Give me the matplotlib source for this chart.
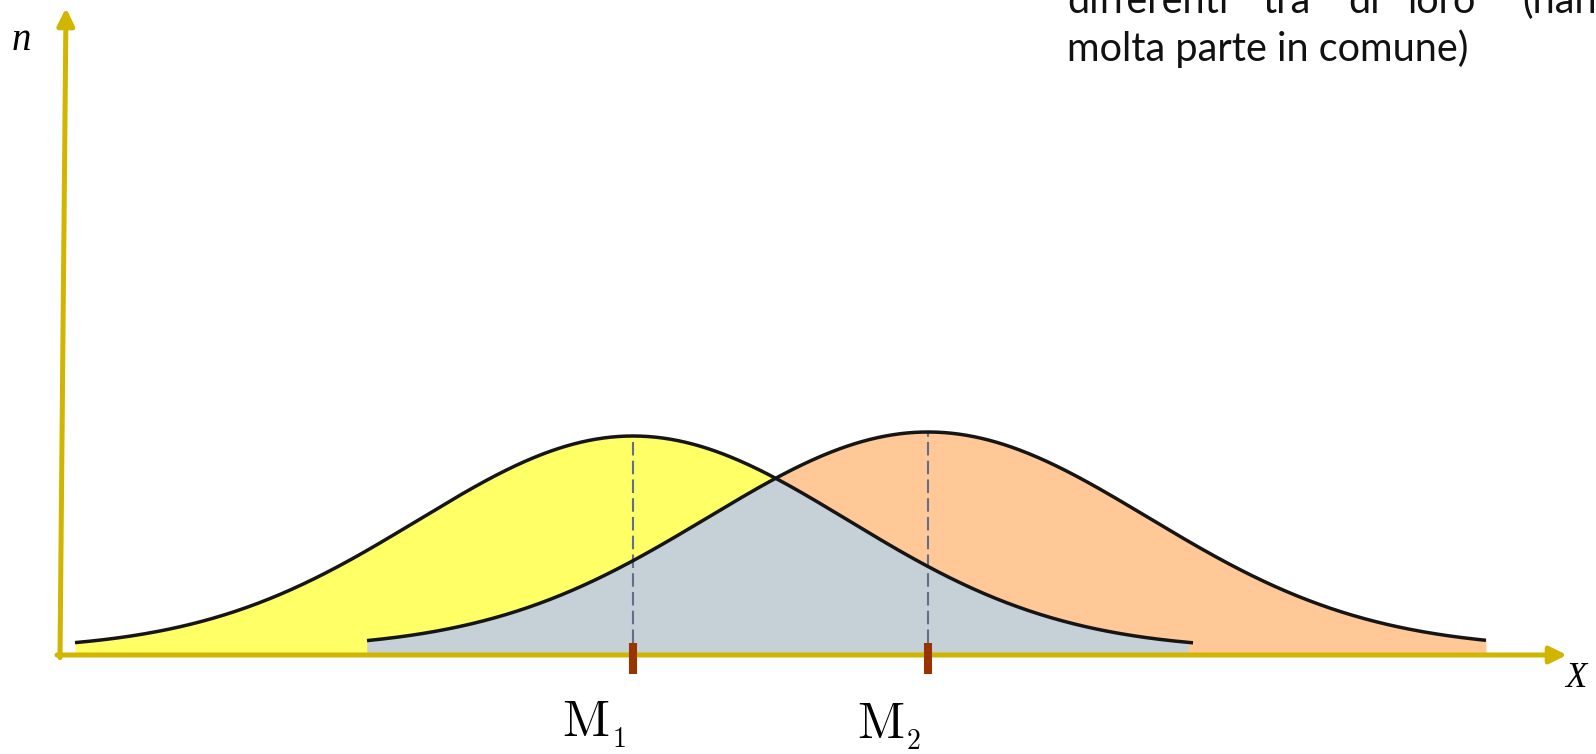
import numpy as np
import matplotlib
matplotlib.use("Agg")
import matplotlib.pyplot as plt

# ---- data (illustrative units: 1 unit on both axes) ----
mean_names = ["M", "M"]
mean_subs = ["1", "2"]
means = [5.73, 8.68]          # centre of each distribution
sds = [2.15, 2.20]            # spread
peaks = [2.14, 2.17]          # peak height above floor
floors = [0.05, 0.06]         # residual tail height
x_starts = [0.15, 3.07]       # where each curve is drawn from
x_ends = [11.33, 14.26]       # where each curve stops
fill_colors = ["#FFFF66", "#FFC896"]
overlap_color = "#C5D0D7"

text_line1 = ["differenti", "tra", "di", "loro", "(hanno"]
text_line2 = "molta parte in comune)"

GOLD = "#D1B500"
W, H = 1596, 754

plt.rcParams["mathtext.fontset"] = "cm"

fig = plt.figure(figsize=(W / 100, H / 100), dpi=100)
ax = fig.add_axes([60 / W, (H - 655) / H, (1567 - 60) / W, (655 - 8) / H])
ax.set_xlim(0, 15.07)
ax.set_ylim(0, 6.47)
ax.axis("off")


def curve(i, x):
    return floors[i] + peaks[i] * np.exp(-0.5 * ((x - means[i]) / sds[i]) ** 2)


xs = [np.linspace(x_starts[i], x_ends[i], 600) for i in range(2)]
ys = [curve(i, xs[i]) for i in range(2)]

for i in range(2):
    ax.fill_between(xs[i], 0, ys[i], color=fill_colors[i], lw=0, zorder=1)

xo = np.linspace(x_starts[1], x_ends[0] - 0.05, 600)
ax.fill_between(xo, 0, np.minimum(curve(0, xo), curve(1, xo)),
                color=overlap_color, lw=0, zorder=2)

for i in range(2):
    ax.plot(xs[i], ys[i], color="#151515", lw=2.5, zorder=4,
            solid_capstyle="butt")

# dashed lines from peak down to axis marks
for i in range(2):
    ax.plot([means[i], means[i]], [0.12, curve(i, means[i])], color="#646E8C",
            lw=1.5, dashes=(6.5, 2.5), zorder=3)

# axes with arrows
arrow_style = "-|>,head_length=0.85,head_width=0.42"
ax.annotate("", xy=(1.0, 0.0), xytext=(-0.002, 0.0), xycoords="axes fraction",
            arrowprops=dict(arrowstyle=arrow_style, mutation_scale=12, lw=3.6,
                            color=GOLD, shrinkA=0, shrinkB=0),
            zorder=5, annotation_clip=False)
ax.annotate("", xy=(6 / 1507, 1.0), xytext=(0.0, -0.004), xycoords="axes fraction",
            arrowprops=dict(arrowstyle=arrow_style, mutation_scale=12, lw=3.6,
                            color=GOLD, shrinkA=0, shrinkB=0),
            zorder=5, annotation_clip=False)

# mean marks on the axis
for i in range(2):
    ax.plot([means[i], means[i]], [-0.19, 0.12], color="#993300", lw=5.8,
            solid_capstyle="butt", zorder=6, clip_on=False)

# mean labels: "M" with a small, dropped subscript
label_y = [-0.81, -0.83]
for i in range(2):
    ax.text(means[i] - 0.235, label_y[i], r"$\mathrm{%s}$" % mean_names[i],
            fontsize=37, ha="right", va="baseline", clip_on=False)
    ax.text(means[i] - 0.215, label_y[i] - 0.11, r"$\mathrm{%s}$" % mean_subs[i],
            fontsize=20, ha="left", va="baseline", clip_on=False)

# axis names
fig.text(12 / W, 1 - 50 / H, "n", fontsize=28, family="Liberation Serif",
         style="italic", ha="left", va="baseline")
fig.text(1565 / W, 1 - 687 / H, "X", fontsize=25, family="Liberation Serif",
         style="italic", ha="left", va="baseline")

# cut-off paragraph at the top right
word_x = [1067, 1262, 1348, 1407, 1522]
for w, xw in zip(text_line1, word_x):
    fig.text(xw / W, 1 - 13 / H, w, fontsize=28.5, family="Lato",
             ha="left", va="baseline", color="#111111")
fig.text(1067 / W, 1 - 61 / H, text_line2, fontsize=28.5, family="Lato",
         ha="left", va="baseline", color="#111111")

fig.savefig("out.png", dpi=100, facecolor="white")
